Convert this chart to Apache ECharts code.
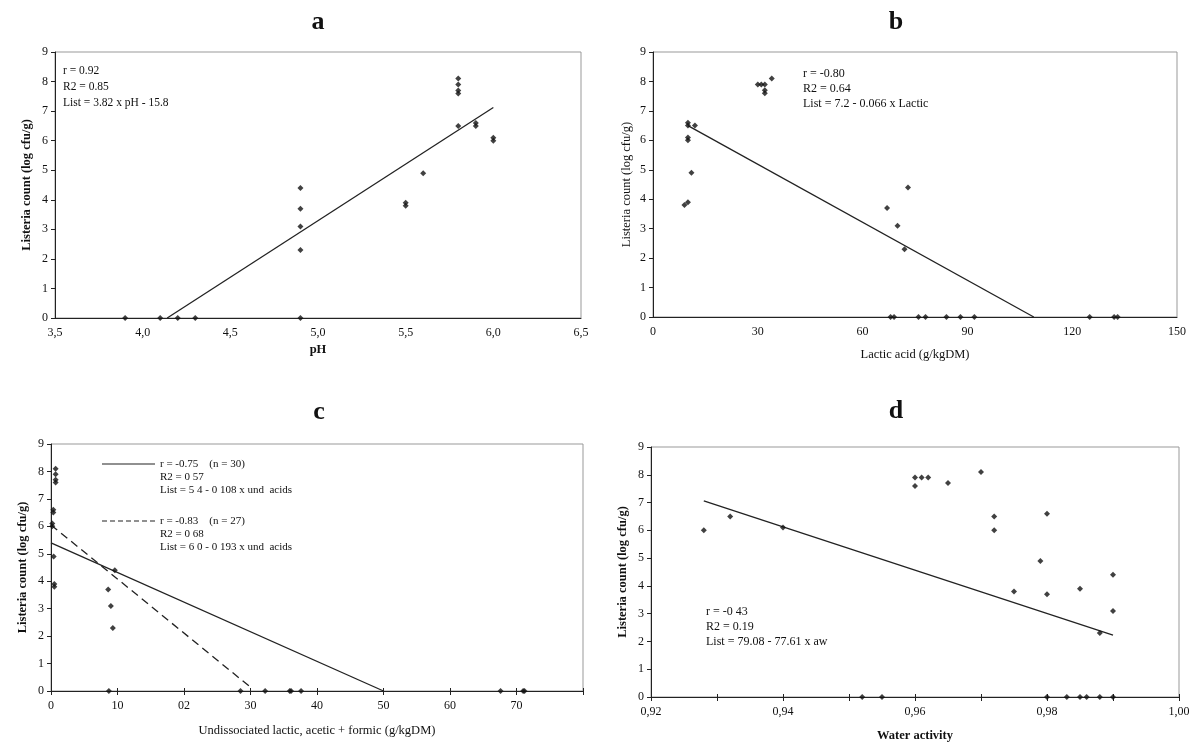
<!DOCTYPE html>
<html>
<head>
<meta charset="utf-8">
<script src="https://cdn.jsdelivr.net/npm/echarts@6/dist/echarts.min.js"></script>
<style>
html,body{margin:0;padding:0;background:#fff;}
#c{width:1200px;height:748px;}
</style>
</head>
<body>
<div id="c"></div>
<script>
// ---------- DATA ----------
const yTickLabels = ['0','1','2','3','4','5','6','7','8','9'];

// Panel a : pH
const ticksA = ['3,5','4,0','4,5','5,0','5,5','6,0','6,5'];
const phA    = [3.9,4.1,4.2,4.3,4.9, 4.9,4.9,4.9,4.9, 5.5,5.5, 5.6, 5.8,5.8,5.8,5.8,5.8, 5.9,5.9, 6.0,6.0];
const countA = [0,0,0,0,0, 2.3,3.1,3.7,4.4, 3.8,3.9, 4.9, 6.5,7.6,7.7,7.9,8.1, 6.5,6.6, 6.0,6.1];
const fitAx = [4.14, 6.0];
const fitAy = [0, 7.12];

// Panel b : lactic acid
const ticksB  = ['0','30','60','90','120','150'];
const lacticB = [9,10,11,10,10,10,10,12, 30,31,32,32,32,34, 67,70,72,73, 68,69,76,78,84,88,92,125,132,133];
const countB  = [3.8,3.9,4.9,6.0,6.1,6.5,6.6,6.5, 7.9,7.9,7.9,7.7,7.6,8.1, 3.7,3.1,2.3,4.4, 0,0,0,0,0,0,0,0,0,0];
const fitBx = [10, 109];
const fitBy = [6.5, 0];

// Panel c : undissociated acids
const ticksC  = ['0','10','02','30','40','50','60','70',''];
const acidsC  = [0.7,0.7,0.7,0.7, 0.35,0.35, 0.2,0.2, 0.4, 0.5,0.5, 9.6, 8.6, 9.0, 9.3, 8.7, 28.5, 32.2, 35.9, 36.1, 37.6, 67.6, 71.0, 71.2];
const countC  = [8.1,7.9,7.7,7.6, 6.6,6.5, 6.1,6.0, 4.9, 3.9,3.8, 4.4, 3.7, 3.1, 2.3, 0,0,0,0,0,0,0,0,0];
const fitC1x = [0, 50];
const fitC1y = [5.4, 0];
const fitC2x = [0, 30.2];
const fitC2y = [6.05, 0.1];

// Panel d : water activity
const ticksD = ['0,92','','0,94','','0,96','','0,98','','1,00'];
const awD    = [0.928,0.932,0.940,0.960,0.960,0.961,0.962,0.965,0.970,0.972,0.972,0.980,0.979,0.975,0.980,0.985,0.990,0.990,0.988, 0.952,0.955,0.980,0.983,0.985,0.986,0.988,0.990];
const countD = [6.0,6.5,6.1,7.9,7.6,7.9,7.9,7.7,8.1,6.5,6.0,6.6,4.9,3.8,3.7,3.9,4.4,3.1,2.3, 0,0,0,0,0,0,0,0,0];
const fitDx = [0.928, 0.990];
const fitDy = [7.06, 2.23];

// ---------- HELPERS ----------
const FONT = '"Liberation Serif","Times New Roman",serif';
const zip = (xs, ys) => xs.map((x, i) => [x, ys[i]]);
const fmt = (labels, min, step) => v => { const i = Math.round((v - min) / step); return labels[i] !== undefined ? labels[i] : ''; };

const grids = [
  {left: 55,  top: 52,  width: 526, height: 266},
  {left: 653, top: 52,  width: 524, height: 265},
  {left: 51,  top: 444, width: 532, height: 247},
  {left: 651, top: 447, width: 528, height: 250}
];

function xAxis(gi, min, max, step, labels, name, nameGap, bold, ticks) {
  return {
    type: 'value', gridIndex: gi, min: min, max: max, interval: step, position: 'bottom',
    name: name, nameLocation: 'middle', nameGap: nameGap,
    nameTextStyle: {fontFamily: FONT, fontSize: 12.5, color: '#111', fontWeight: bold ? 'bold' : 'normal'},
    axisLine: {show: true, onZero: false, lineStyle: {color: '#222', width: 1}},
    axisTick: {show: ticks, length: 4, lineStyle: {color: '#222'}},
    axisLabel: {fontFamily: FONT, fontSize: 12, color: '#111', margin: 9, formatter: fmt(labels, min, step)},
    splitLine: {show: false}
  };
}
// inner half of the crossing tick marks (no line, no labels)
function xTickInner(gi, min, max, step) {
  return {
    type: 'value', gridIndex: gi, min: min, max: max, interval: step, position: 'bottom',
    axisLine: {show: false, onZero: false},
    axisTick: {show: true, inside: true, length: 3, lineStyle: {color: '#222'}},
    axisLabel: {show: false}, splitLine: {show: false}
  };
}
function yAxis(gi, nameGap, bold) {
  return {
    type: 'value', gridIndex: gi, min: 0, max: 9, interval: 1,
    name: 'Listeria count (log cfu/g)', nameLocation: 'middle', nameGap: nameGap,
    nameTextStyle: {fontFamily: FONT, fontSize: 12.5, color: '#111', fontWeight: bold ? 'bold' : 'normal'},
    axisLine: {show: true, lineStyle: {color: '#222', width: 1}},
    axisTick: {show: true, length: 4, lineStyle: {color: '#222'}},
    axisLabel: {fontFamily: FONT, fontSize: 12, color: '#111', margin: 7, formatter: fmt(yTickLabels, 0, 1)},
    splitLine: {show: false}
  };
}
function pts(gi, xs, ys) {
  return {type: 'scatter', xAxisIndex: gi, yAxisIndex: gi, data: zip(xs, ys),
    symbol: 'diamond', symbolSize: 6, itemStyle: {color: '#111'}, silent: true, animation: false, z: 3};
}
function fit(gi, xs, ys, dashed) {
  return {type: 'line', xAxisIndex: gi, yAxisIndex: gi, data: zip(xs, ys), symbol: 'none',
    lineStyle: {color: '#222', width: 1.3, type: dashed ? [8, 5] : 'solid'}, silent: true, animation: false, z: 2};
}
function txt(x, y, s, size, bold, align) {
  return {type: 'text', x: x, y: y, silent: true,
    style: {text: s, font: (bold ? 'bold ' : '') + size + 'px ' + FONT, fill: '#111',
      align: align || 'left', verticalAlign: 'middle', textAlign: align || 'left', textVerticalAlign: 'middle'}};
}

const graphics = [
  txt(318, 22, 'a', 26, true, 'center'),
  txt(896, 22, 'b', 26, true, 'center'),
  txt(319, 412, 'c', 26, true, 'center'),
  txt(896, 411, 'd', 26, true, 'center'),
  // panel a
  txt(63, 71, 'r = 0.92', 11.5),
  txt(63, 87, 'R2 = 0.85', 11.5),
  txt(63, 103, 'List = 3.82 x pH - 15.8', 11.5),
  // panel b
  txt(803, 74, 'r = -0.80', 12),
  txt(803, 89, 'R2 = 0.64', 12),
  txt(803, 104, 'List = 7.2 - 0.066 x Lactic', 12),
  // panel c legend
  {type: 'line', silent: true, shape: {x1: 102, y1: 464, x2: 155, y2: 464}, style: {stroke: '#222', lineWidth: 1.2}},
  txt(160, 464, 'r = -0.75    (n = 30)', 11),
  txt(160, 477, 'R2 = 0 57', 11),
  txt(160, 490, 'List = 5 4 - 0 108 x und  acids', 11),
  {type: 'line', silent: true, shape: {x1: 102, y1: 521, x2: 155, y2: 521}, style: {stroke: '#222', lineWidth: 1.2, lineDash: [5, 3]}},
  txt(160, 521, 'r = -0.83    (n = 27)', 11),
  txt(160, 534, 'R2 = 0 68', 11),
  txt(160, 547, 'List = 6 0 - 0 193 x und  acids', 11),
  // panel d
  txt(706, 612, 'r = -0 43', 12),
  txt(706, 627, 'R2 = 0.19', 12),
  txt(706, 642, 'List = 79.08 - 77.61 x aw', 12)
];

const option = {
  backgroundColor: '#fff',
  animation: false,
  grid: grids.map(g => Object.assign({show: true, borderColor: '#999', borderWidth: 1, backgroundColor: 'transparent'}, g)),
  xAxis: [
    xAxis(0, 3.5, 6.5, 0.5, ticksA, 'pH', 25, true, false),
    xAxis(1, 0, 150, 30, ticksB, 'Lactic acid (g/kgDM)', 31, false, false),
    xAxis(2, 0, 80, 10, ticksC, 'Undissociated lactic, acetic + formic (g/kgDM)', 33, false, true),
    xAxis(3, 0.92, 1.0, 0.01, ticksD, 'Water activity', 32, true, true),
    xTickInner(2, 0, 80, 10),
    xTickInner(3, 0.92, 1.0, 0.01)
  ],
  yAxis: [yAxis(0, 22, true), yAxis(1, 20, false), yAxis(2, 22, true), yAxis(3, 22, true)],
  series: [
    pts(0, phA, countA), fit(0, fitAx, fitAy, false),
    pts(1, lacticB, countB), fit(1, fitBx, fitBy, false),
    pts(2, acidsC, countC), fit(2, fitC1x, fitC1y, false), fit(2, fitC2x, fitC2y, true),
    pts(3, awD, countD), fit(3, fitDx, fitDy, false)
  ],
  graphic: graphics
};

const chart = echarts.init(document.getElementById('c'), null, {renderer: 'canvas'});
chart.setOption(option);
</script>
</body>
</html>
